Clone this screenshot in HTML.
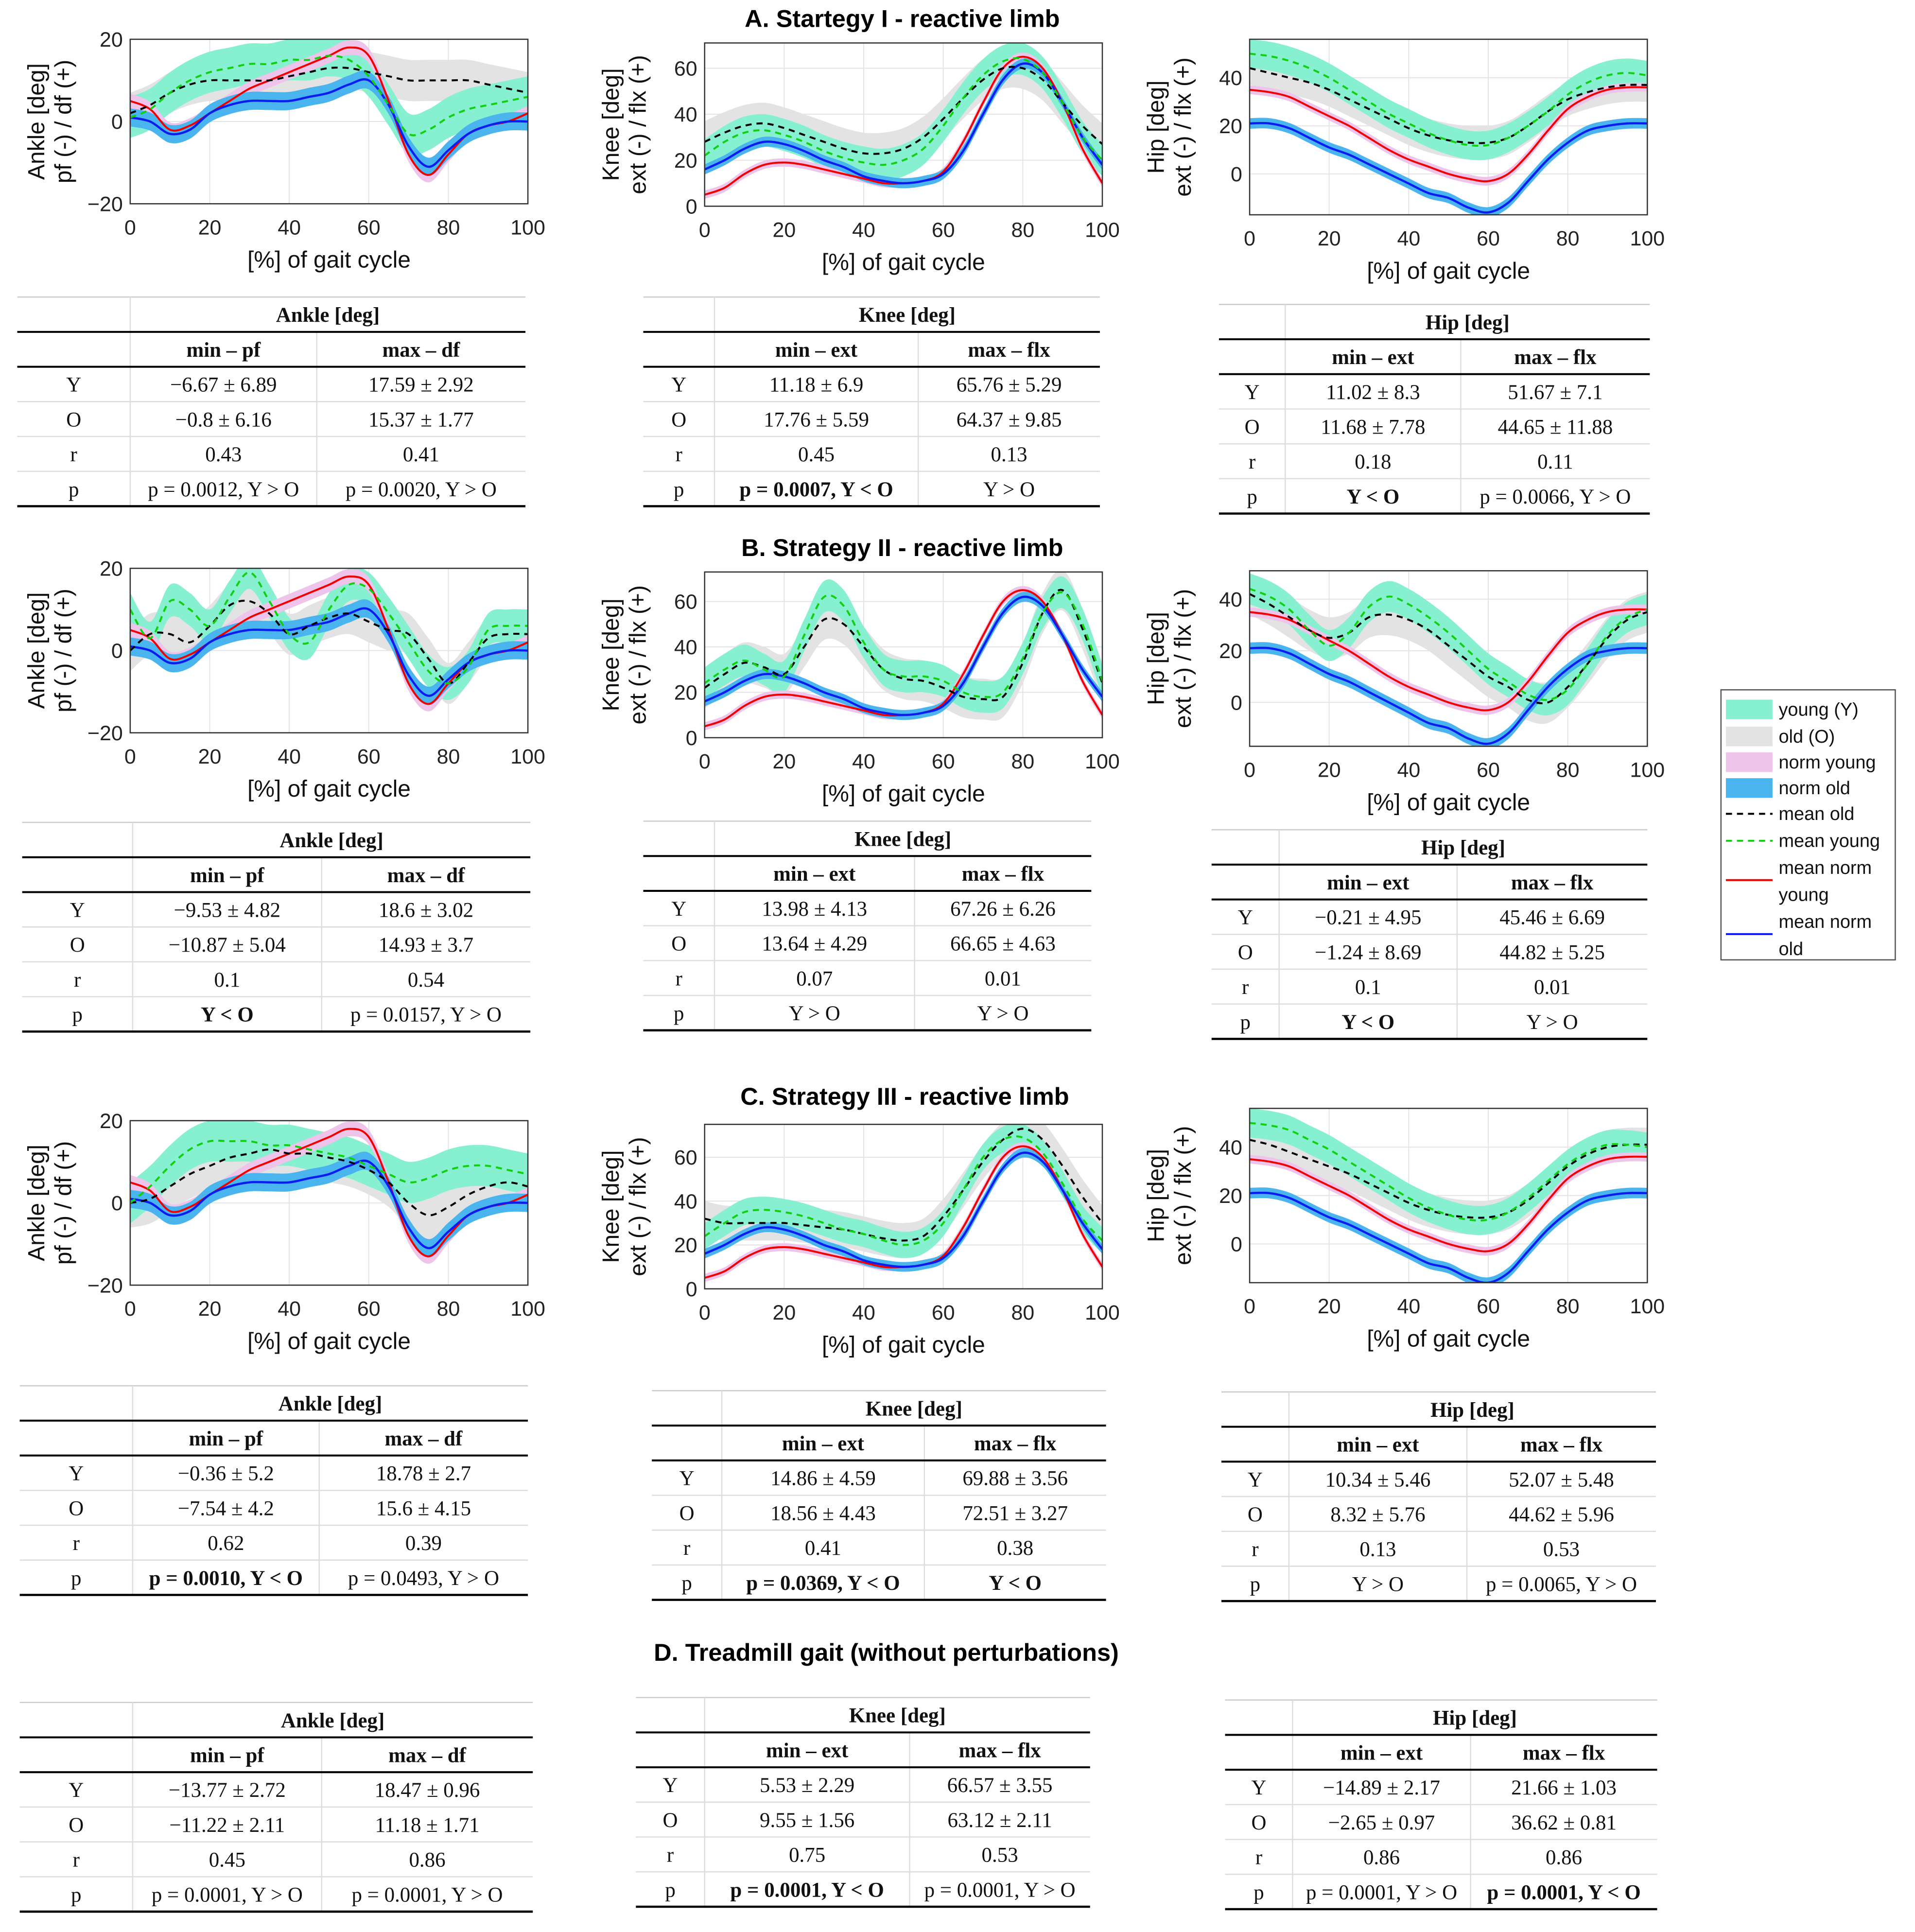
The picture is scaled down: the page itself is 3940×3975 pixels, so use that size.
<!DOCTYPE html>
<html><head><meta charset="utf-8">
<style>
html,body{margin:0;padding:0;background:#fff;}
svg{display:block;}
text{font-family:"Liberation Sans",Arial,sans-serif;}
.tt{font-family:"Liberation Serif","DejaVu Serif",serif;font-size:17px;fill:#111;}
</style></head>
<body>
<svg id="fig" xmlns="http://www.w3.org/2000/svg" width="3940" height="3975" viewBox="0 0 1560 1574">
<rect width="1560" height="1574" fill="#fff"/>
<text x="735" y="22" font-size="20" font-weight="bold" text-anchor="middle">A. Startegy I - reactive limb</text>
<text x="735" y="453" font-size="20" font-weight="bold" text-anchor="middle">B. Strategy II - reactive limb</text>
<text x="737" y="900" font-size="20" font-weight="bold" text-anchor="middle">C. Strategy III - reactive limb</text>
<text x="722" y="1353" font-size="20" font-weight="bold" text-anchor="middle">D. Treadmill gait (without perturbations)</text>
<g id="charts"></g>
<g id="tables"></g>
<g id="legend"></g>
</svg>
<script>
const NS="http://www.w3.org/2000/svg";
const xs=[0,5,10,15,20,25,30,35,40,45,50,55,60,65,70,75,80,85,90,95,100];
const xTicks=[0,20,40,60,80,100];
// norm curves
const ankleRed=[5,3,-2,-1,2,5,8,10,12,14,16,18,16,5,-8,-13,-8,-3,-1,0,2];
const ankleBlue=[1,0,-3,-2,2,4,5,5,5,6,7,9,10,4,-6,-11,-7,-3,-1,0,0];
const kneeRed=[5,8,14,18,19,18,16,14,12,10,10,11,15,28,45,60,65,60,45,25,10];
const kneeBlue=[16,20,25,28,27,24,20,17,13,11,10,11,14,24,40,55,62,58,45,30,18];
const hipRed=[35,34,32,28,24,20,15,10,6,3,0,-2,-3,0,8,18,27,32,35,36,36];
const hipBlue=[21,21,19,15,11,8,4,0,-4,-8,-10,-14,-16,-12,-3,6,13,18,20,21,21];
// strategy means
const aAnkleY=[1,3,7,10,12,13,14,14,15,15,16,15,11,4,-3,-2,1,3,4,5,6];
const aAnkleO=[2,4,7,9,10,10,10,10,11,12,13,13,12,11,10,10,10,10,9,8,7];
const aKneeY=[22,28,32,33,31,28,24,21,19,18,20,25,35,47,57,63,64,58,45,30,20];
const aKneeO=[28,32,35,36,34,31,28,25,23,23,25,30,38,47,55,60,60,55,45,35,27];
const aHipY=[50,49,47,44,40,35,30,25,21,17,14,12,12,15,20,26,33,38,41,42,41];
const aHipO=[44,42,40,38,35,31,27,23,19,16,14,13,13,15,20,26,31,34,36,37,37];
const bAnkleY=[10,3,12,10,6,13,19,12,4,2,10,16,15,9,2,-5,-8,-4,5,6,6];
const bAnkleO=[0,4,4,2,6,11,12,9,4,6,8,9,7,5,4,-2,-8,-3,3,4,4];
const bKneeY=[24,30,34,30,27,45,62,58,42,30,27,27,25,20,18,20,35,55,64,50,25];
const bKneeO=[22,28,33,31,28,40,52,50,40,30,26,25,22,18,17,18,33,55,65,48,24];
const bHipY=[44,41,36,28,22,27,37,41,38,33,27,20,13,8,3,1,5,15,26,33,36];
const bHipO=[42,38,33,28,25,27,33,34,32,28,22,16,10,6,1,0,6,15,25,32,35];
const cAnkleY=[0,4,9,13,15,15,15,14,14,13,12,11,9,7,5,6,8,9,9,8,7];
const cAnkleO=[0,1,4,7,9,11,12,13,12,12,11,10,8,5,0,-3,-1,2,4,5,4];
const cKneeY=[24,30,35,36,35,33,30,27,25,22,20,22,30,45,60,68,69,62,48,32,22];
const cKneeO=[32,30,30,30,30,29,28,27,25,23,22,24,33,45,58,68,73,68,56,42,30];
const cHipY=[50,49,47,43,39,34,29,24,19,15,12,10,10,13,19,26,33,38,41,41,40];
const cHipO=[43,41,38,35,32,29,25,21,17,14,12,11,11,13,18,25,32,37,40,41,41];

const charts=[
 {n:"ankle-a",x0:106,x1:430,y0:32,y1:166,ymin:-20,ymax:20,yt:[-20,0,20],t1:"Ankle [deg]",t2:"pf (-) / df (+)",Y:aAnkleY,O:aAnkleO,R:ankleRed,B:ankleBlue,hy:5,ho:5},
 {n:"knee-a",x0:574,x1:898,y0:35,y1:168,ymin:0,ymax:71,yt:[0,20,40,60],t1:"Knee [deg]",t2:"ext (-) / flx (+)",Y:aKneeY,O:aKneeO,R:kneeRed,B:kneeBlue,hy:7,ho:9},
 {n:"hip-a",x0:1018,x1:1342,y0:32,y1:175,ymin:-17,ymax:56,yt:[0,20,40],t1:"Hip [deg]",t2:"ext (-) / flx (+)",Y:aHipY,O:aHipO,R:hipRed,B:hipBlue,hy:6,ho:7},
 {n:"ankle-b",x0:106,x1:430,y0:463,y1:597,ymin:-20,ymax:20,yt:[-20,0,20],t1:"Ankle [deg]",t2:"pf (-) / df (+)",Y:bAnkleY,O:bAnkleO,R:ankleRed,B:ankleBlue,hy:4,ho:5},
 {n:"knee-b",x0:574,x1:898,y0:466,y1:601,ymin:0,ymax:73,yt:[0,20,40,60],t1:"Knee [deg]",t2:"ext (-) / flx (+)",Y:bKneeY,O:bKneeO,R:kneeRed,B:kneeBlue,hy:7,ho:9},
 {n:"hip-b",x0:1018,x1:1342,y0:465,y1:608,ymin:-17,ymax:51,yt:[0,20,40],t1:"Hip [deg]",t2:"ext (-) / flx (+)",Y:bHipY,O:bHipO,R:hipRed,B:hipBlue,hy:6,ho:8},
 {n:"ankle-c",x0:106,x1:430,y0:913,y1:1047,ymin:-20,ymax:20,yt:[-20,0,20],t1:"Ankle [deg]",t2:"pf (-) / df (+)",Y:cAnkleY,O:cAnkleO,R:ankleRed,B:ankleBlue,hy:5,ho:6},
 {n:"knee-c",x0:574,x1:898,y0:916,y1:1050,ymin:0,ymax:75,yt:[0,20,40,60],t1:"Knee [deg]",t2:"ext (-) / flx (+)",Y:cKneeY,O:cKneeO,R:kneeRed,B:kneeBlue,hy:6,ho:8},
 {n:"hip-c",x0:1018,x1:1342,y0:903,y1:1045,ymin:-16,ymax:56,yt:[0,20,40],t1:"Hip [deg]",t2:"ext (-) / flx (+)",Y:cHipY,O:cHipO,R:hipRed,B:hipBlue,hy:6,ho:7}
];
function el(tag,attrs,parent,txt){const e=document.createElementNS(NS,tag);for(const k in attrs)e.setAttribute(k,attrs[k]);if(txt!==undefined)e.textContent=txt;parent.appendChild(e);return e;}
function smooth(pts){let d="M"+pts[0][0].toFixed(2)+","+pts[0][1].toFixed(2);for(let i=0;i<pts.length-1;i++){const p0=pts[Math.max(0,i-1)],p1=pts[i],p2=pts[i+1],p3=pts[Math.min(pts.length-1,i+2)];const c1=[p1[0]+(p2[0]-p0[0])/6,p1[1]+(p2[1]-p0[1])/6],c2=[p2[0]-(p3[0]-p1[0])/6,p2[1]-(p3[1]-p1[1])/6];d+="C"+c1[0].toFixed(2)+","+c1[1].toFixed(2)+" "+c2[0].toFixed(2)+","+c2[1].toFixed(2)+" "+p2[0].toFixed(2)+","+p2[1].toFixed(2);}return d;}
const root=document.getElementById("charts");
charts.forEach(c=>{
 const g=el("g",{},root);
 
 
 const X=v=>c.x0+(v/100)*(c.x1-c.x0);
 const Yf=v=>c.y1-(v-c.ymin)/(c.ymax-c.ymin)*(c.y1-c.y0);
 const clip="cl-"+c.n;
 const cp=el("clipPath",{id:clip},g);el("rect",{x:c.x0,y:c.y0,width:c.x1-c.x0,height:c.y1-c.y0},cp);
 xTicks.forEach(t=>{el("line",{x1:X(t),x2:X(t),y1:c.y0,y2:c.y1,stroke:"#e4e4e4","stroke-width":0.8},g);
   const tx=el("text",{x:X(t),y:c.y1+25,"font-size":17,"text-anchor":"middle",fill:"#222"},g,String(t));
   });
 c.yt.forEach(t=>{el("line",{x1:c.x0,x2:c.x1,y1:Yf(t),y2:Yf(t),stroke:"#e4e4e4","stroke-width":0.8},g);
   const tx=el("text",{x:c.x0-6,y:Yf(t)+6,"font-size":17,"text-anchor":"end",fill:"#222"},g,t<0?"\u2212"+(-t):String(t));
   });
 const pg=el("g",{"clip-path":"url(#"+clip+")"},g);
 function band(arr,hw,fill,name){const up=xs.map((x,i)=>[X(x),Yf(arr[i]+hw)]),lo=xs.map((x,i)=>[X(x),Yf(arr[i]-hw)]).reverse();
   const d=smooth(up)+"L"+smooth(lo).slice(1)+"Z";const p=el("path",{d:d,fill:fill,stroke:"none"},pg);
   }
 band(c.O,c.ho,"#e3e3e3","band-old");
 band(c.Y,c.hy,"#86f0d0","band-young");
 band(c.R,1.8,"#eec4ea","band-norm-young");
 band(c.B,2.2,"#4ab4ee","band-norm-old");
 function line(arr,stroke,dash,name,w){const p=el("path",{d:smooth(xs.map((x,i)=>[X(x),Yf(arr[i])])),fill:"none",stroke:stroke,"stroke-width":w||1.6},pg);if(dash)p.setAttribute("stroke-dasharray",dash);
   }
 line(c.R,"#f00000",null,"line-mean-norm-young");
 line(c.B,"#0a1cf0",null,"line-mean-norm-old",1.8);
 line(c.O,"#000",  "5,4","line-mean-old");
 line(c.Y,"#10d010","5,4","line-mean-young");
 el("rect",{x:c.x0,y:c.y0,width:c.x1-c.x0,height:c.y1-c.y0,fill:"none",stroke:"#333","stroke-width":1},g);
 const cx=c.x0-68,cy=(c.y0+c.y1)/2;
 const yt=el("text",{x:cx,y:cy,"font-size":19,"text-anchor":"middle",fill:"#111",transform:"rotate(-90 "+cx+" "+cy+")"},g);
 
 el("tspan",{x:cx,dy:-2},yt,c.t1);el("tspan",{x:cx,dy:22},yt,c.t2);
 const xt=el("text",{x:(c.x0+c.x1)/2,y:c.y1+52,"font-size":19,"text-anchor":"middle",fill:"#111"},g,"[%] of gait cycle");
 
});
// tables
const tables=[
 {n:"ankle-a",x0:14,x1:428,s1:106,s2:258,top:242,h:"Ankle [deg]",c1:"min \u2013 pf",c2:"max \u2013 df",rows:[["Y","\u22126.67 \u00b1 6.89","17.59 \u00b1 2.92"],["O","\u22120.8 \u00b1 6.16","15.37 \u00b1 1.77"],["r","0.43","0.41"],["p","p = 0.0012, Y > O","p = 0.0020, Y > O"]]},
 {n:"knee-a",x0:524,x1:896,s1:582,s2:748,top:242,h:"Knee [deg]",c1:"min \u2013 ext",c2:"max \u2013 flx",rows:[["Y","11.18 \u00b1 6.9","65.76 \u00b1 5.29"],["O","17.76 \u00b1 5.59","64.37 \u00b1 9.85"],["r","0.45","0.13"],["p","*p = 0.0007, Y < O","Y > O"]]},
 {n:"hip-a",x0:993,x1:1344,s1:1047,s2:1190,top:248,h:"Hip [deg]",c1:"min \u2013 ext",c2:"max \u2013 flx",rows:[["Y","11.02 \u00b1 8.3","51.67 \u00b1 7.1"],["O","11.68 \u00b1 7.78","44.65 \u00b1 11.88"],["r","0.18","0.11"],["p","*Y < O","p = 0.0066, Y > O"]]},
 {n:"ankle-b",x0:18,x1:432,s1:108,s2:262,top:670,h:"Ankle [deg]",c1:"min \u2013 pf",c2:"max \u2013 df",rows:[["Y","\u22129.53 \u00b1 4.82","18.6 \u00b1 3.02"],["O","\u221210.87 \u00b1 5.04","14.93 \u00b1 3.7"],["r","0.1","0.54"],["p","*Y < O","p = 0.0157, Y > O"]]},
 {n:"knee-b",x0:524,x1:889,s1:582,s2:745,top:669,h:"Knee [deg]",c1:"min \u2013 ext",c2:"max \u2013 flx",rows:[["Y","13.98 \u00b1 4.13","67.26 \u00b1 6.26"],["O","13.64 \u00b1 4.29","66.65 \u00b1 4.63"],["r","0.07","0.01"],["p","Y > O","Y > O"]]},
 {n:"hip-b",x0:987,x1:1342,s1:1042,s2:1187,top:676,h:"Hip [deg]",c1:"min \u2013 ext",c2:"max \u2013 flx",rows:[["Y","\u22120.21 \u00b1 4.95","45.46 \u00b1 6.69"],["O","\u22121.24 \u00b1 8.69","44.82 \u00b1 5.25"],["r","0.1","0.01"],["p","*Y < O","Y > O"]]},
 {n:"ankle-c",x0:16,x1:430,s1:108,s2:260,top:1129,h:"Ankle [deg]",c1:"min \u2013 pf",c2:"max \u2013 df",rows:[["Y","\u22120.36 \u00b1 5.2","18.78 \u00b1 2.7"],["O","\u22127.54 \u00b1 4.2","15.6 \u00b1 4.15"],["r","0.62","0.39"],["p","*p = 0.0010, Y < O","p = 0.0493, Y > O"]]},
 {n:"knee-c",x0:531,x1:901,s1:588,s2:753,top:1133,h:"Knee [deg]",c1:"min \u2013 ext",c2:"max \u2013 flx",rows:[["Y","14.86 \u00b1 4.59","69.88 \u00b1 3.56"],["O","18.56 \u00b1 4.43","72.51 \u00b1 3.27"],["r","0.41","0.38"],["p","*p = 0.0369, Y < O","*Y < O"]]},
 {n:"hip-c",x0:995,x1:1349,s1:1050,s2:1195,top:1134,h:"Hip [deg]",c1:"min \u2013 ext",c2:"max \u2013 flx",rows:[["Y","10.34 \u00b1 5.46","52.07 \u00b1 5.48"],["O","8.32 \u00b1 5.76","44.62 \u00b1 5.96"],["r","0.13","0.53"],["p","Y > O","p = 0.0065, Y > O"]]},
 {n:"ankle-d",x0:16,x1:434,s1:108,s2:262,top:1387,h:"Ankle [deg]",c1:"min \u2013 pf",c2:"max \u2013 df",rows:[["Y","\u221213.77 \u00b1 2.72","18.47 \u00b1 0.96"],["O","\u221211.22 \u00b1 2.11","11.18 \u00b1 1.71"],["r","0.45","0.86"],["p","p = 0.0001, Y > O","p = 0.0001, Y > O"]]},
 {n:"knee-d",x0:518,x1:888,s1:574,s2:741,top:1383,h:"Knee [deg]",c1:"min \u2013 ext",c2:"max \u2013 flx",rows:[["Y","5.53 \u00b1 2.29","66.57 \u00b1 3.55"],["O","9.55 \u00b1 1.56","63.12 \u00b1 2.11"],["r","0.75","0.53"],["p","*p = 0.0001, Y < O","p = 0.0001, Y > O"]]},
 {n:"hip-d",x0:998,x1:1350,s1:1053,s2:1198,top:1385,h:"Hip [deg]",c1:"min \u2013 ext",c2:"max \u2013 flx",rows:[["Y","\u221214.89 \u00b1 2.17","21.66 \u00b1 1.03"],["O","\u22122.65 \u00b1 0.97","36.62 \u00b1 0.81"],["r","0.86","0.86"],["p","p = 0.0001, Y > O","*p = 0.0001, Y < O"]]}
];
const tg=document.getElementById("tables");
tables.forEach(t=>{
 const g=el("g",{},tg);
 
 
 const rh=28.4,T=t.top;
 const m1=(t.s1+t.s2)/2,m2=(t.s2+t.x1)/2,m0=(t.x0+t.s1)/2;
 el("line",{x1:t.x0,x2:t.x1,y1:T,y2:T,stroke:"#ccc","stroke-width":1},g);
 el("line",{x1:t.s1,x2:t.s1,y1:T,y2:T+rh*6,stroke:"#ddd","stroke-width":1},g);
 el("line",{x1:t.s2,x2:t.s2,y1:T+rh,y2:T+rh*6,stroke:"#ddd","stroke-width":1},g);
 el("line",{x1:t.x0,x2:t.x1,y1:T+rh,y2:T+rh,stroke:"#000","stroke-width":1.6},g);
 el("line",{x1:t.x0,x2:t.x1,y1:T+rh*2,y2:T+rh*2,stroke:"#000","stroke-width":1.6},g);
 for(let i=3;i<6;i++)el("line",{x1:t.x0,x2:t.x1,y1:T+rh*i,y2:T+rh*i,stroke:"#ddd","stroke-width":1},g);
 el("line",{x1:t.x0,x2:t.x1,y1:T+rh*6,y2:T+rh*6,stroke:"#000","stroke-width":1.8},g);
 el("text",{class:"tt",x:(t.s1+t.x1)/2,y:T+rh*0.5+6,"text-anchor":"middle","font-weight":"bold"},g,t.h);
 el("text",{class:"tt",x:m1,y:T+rh*1.5+6,"text-anchor":"middle","font-weight":"bold"},g,t.c1);
 el("text",{class:"tt",x:m2,y:T+rh*1.5+6,"text-anchor":"middle","font-weight":"bold"},g,t.c2);
 t.rows.forEach((r,i)=>{const y=T+rh*(2.5+i)+6;
  el("text",{class:"tt",x:m0,y:y,"text-anchor":"middle"},g,r[0]);
  [r[1],r[2]].forEach((s,j)=>{const b=s[0]==="*";const tx=el("text",{class:"tt",x:j?m2:m1,y:y,"text-anchor":"middle"},g,b?s.slice(1):s);if(b)tx.setAttribute("font-weight","bold");});
 });
});
// legend
const lg=document.getElementById("legend");
el("rect",{x:1402,y:562,width:142,height:220,fill:"#fff",stroke:"#555","stroke-width":1},lg);
const legItems=[["sw","#86f0d0","young (Y)"],["sw","#e3e3e3","old (O)"],["sw","#eec4ea","norm young"],["sw","#4ab4ee","norm old"],["dash","#000","mean old"],["dash","#10d010","mean young"],["solid","#f00000","mean norm","young"],["solid","#0a1cf0","mean norm","old"]];
const legY=[578,600,621,642,663,685,707,751];
legItems.forEach((it,i)=>{const y=legY[i];
 const g=el("g",{},lg);
 
 
 if(it[0]==="sw")el("rect",{x:1406,y:y-8,width:38,height:16,fill:it[1]},g);
 else el("line",{x1:1406,x2:1444,y1:it[3]?y+10:y,y2:it[3]?y+10:y,stroke:it[1],"stroke-width":1.6,"stroke-dasharray":it[0]==="dash"?"5,4":"none"},g);
 el("text",{x:1449,y:y+5,"font-size":15,fill:"#111"},g,it[2]);
 if(it[3])el("text",{x:1449,y:y+27,"font-size":15,fill:"#111"},g,it[3]);
});
</script>
</body></html>
